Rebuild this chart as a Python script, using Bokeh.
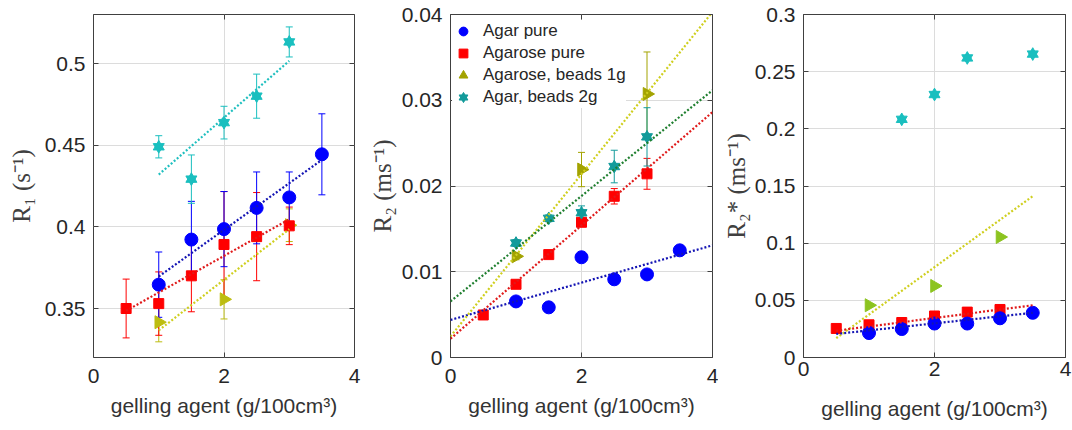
import numpy as np
from bokeh.plotting import figure
from bokeh.models import (ColumnDataSource, Whisker, TeeHead, FixedTicker,
                          LinearAxis, Range1d, Legend, LegendItem)
from bokeh.layouts import row
from bokeh.embed import file_html
from bokeh.resources import INLINE

# ---------------- data ----------------
x_ticks = [0, 2, 4]
x_tick_labels = ["0", "2", "4"]
x_title = "gelling agent (g/100cm³)"
series_names = ["Agar pure", "Agarose pure", "Agarose, beads 1g", "Agar, beads 2g"]

# Panel 1: R1 (s^-1)
r1_ticks = [0.35, 0.4, 0.45, 0.5]
r1_tick_labels = ["0.35", "0.4", "0.45", "0.5"]
r1_agar_x = [1, 1.5, 2, 2.5, 3, 3.5]
r1_agar_y = [0.3646, 0.3922, 0.3986, 0.4116, 0.4180, 0.4444]
r1_agar_err = [0.0200, 0.0234, 0.0230, 0.0220, 0.0156, 0.0248]
r1_agarose_x = [0.5, 1, 1.5, 2, 2.5, 3]
r1_agarose_y = [0.3500, 0.3530, 0.3700, 0.3892, 0.3940, 0.4006]
r1_agarose_err = [0.0180, 0.0194, 0.0220, 0.0324, 0.0270, 0.0115]
r1_beads1_x = [1, 2, 3]
r1_beads1_y = [0.3416, 0.3556, 0.4010]
r1_beads1_err = [0.0120, 0.0120, 0.0100]
r1_beads2_x = [1, 1.5, 2, 2.5, 3]
r1_beads2_y = [0.4490, 0.4292, 0.4638, 0.4800, 0.5132]
r1_beads2_err = [0.0068, 0.0148, 0.0100, 0.0135, 0.0092]
r1_fit_agar = ([1, 3.5], [0.3696, 0.4410])
r1_fit_agarose = ([0.5, 3], [0.3486, 0.4046])
r1_fit_beads1 = ([1, 3], [0.3366, 0.3986])
r1_fit_beads2 = ([1, 3], [0.4320, 0.5016])

# Panel 2: R2 (ms^-1)
r2_ticks = [0, 0.01, 0.02, 0.03, 0.04]
r2_tick_labels = ["0", "0.01", "0.02", "0.03", "0.04"]
r2_agar_x = [1, 1.5, 2, 2.5, 3, 3.5]
r2_agar_y = [0.00654, 0.00585, 0.01169, 0.00912, 0.00969, 0.01250]
r2_agarose_x = [0.5, 1, 1.5, 2, 2.5, 3]
r2_agarose_y = [0.00496, 0.00854, 0.01200, 0.01577, 0.01880, 0.02142]
r2_agarose_err = [0.0002, 0.0003, 0.0003, 0.0005, 0.0009, 0.0018]
r2_beads1_x = [1, 2, 3]
r2_beads1_y = [0.01180, 0.02192, 0.03073]
r2_beads1_err = [0.0004, 0.0020, 0.0049]
r2_beads2_x = [1, 1.5, 2, 2.5, 3]
r2_beads2_y = [0.01335, 0.01623, 0.01688, 0.02227, 0.02573]
r2_beads2_err = [0.0004, 0.0004, 0.0008, 0.0019, 0.0034]
r2_fit_agar = ([0, 4], [0.00438, 0.01308])
r2_fit_agarose = ([0, 4], [0.00219, 0.02862])
r2_fit_beads1 = ([0, 4], [0.00246, 0.04030])
r2_fit_beads2 = ([0, 4], [0.00654, 0.03115])

# Panel 3: R2* (ms^-1)
r3_ticks = [0, 0.05, 0.1, 0.15, 0.2, 0.25, 0.3]
r3_tick_labels = ["0", "0.05", "0.1", "0.15", "0.2", "0.25", "0.3"]
r3_agar_x = [1, 1.5, 2, 2.5, 3, 3.5]
r3_agar_y = [0.0214, 0.0249, 0.0297, 0.0297, 0.0343, 0.0391]
r3_agarose_x = [0.5, 1, 1.5, 2, 2.5, 3]
r3_agarose_y = [0.0254, 0.0286, 0.0306, 0.0363, 0.0397, 0.0420]
r3_beads1_x = [1, 2, 3]
r3_beads1_y = [0.0457, 0.0626, 0.1054]
r3_beads2_x = [1.5, 2, 2.5, 3.5]
r3_beads2_y = [0.2083, 0.2300, 0.2620, 0.2654]
r3_fit_agar = ([0.5, 3.5], [0.0206, 0.0391])
r3_fit_agarose = ([0.5, 3.5], [0.0234, 0.0457])
r3_fit_beads1 = ([0.5, 3.5], [0.0169, 0.1411])

# ---------------- style ----------------
SANS = "Liberation Sans"
SERIF = "Liberation Serif"
TXT = "#262626"
BLUE, RED = "#0000FF", "#FF0000"
BLUE_L, RED_L = "#1414B4", "#E01A1A"
YEL_L, CYAN_L, GREEN_L = "#CFCF1F", "#1FBFBF", "#1F7F2F"


def make_fig(width, ylabel, yrange, yticks, ylabels, bl, br, bt, bb,
             y_lab_standoff, x_tick_standoff, x_lab_standoff):
    p = figure(width=width, height=430, x_range=Range1d(0, 4), y_range=Range1d(*yrange),
               title=None, output_backend="svg", toolbar_location=None,
               min_border_left=bl, min_border_right=br, min_border_top=bt, min_border_bottom=bb,
               background_fill_color="white", border_fill_color="white")
    p.outline_line_color = "#404040"
    p.outline_line_width = 1
    xa, ya = p.xaxis[0], p.yaxis[0]
    xa.ticker = FixedTicker(ticks=x_ticks)
    xa.major_label_overrides = {t: l for t, l in zip(x_ticks, x_tick_labels)}
    ya.ticker = FixedTicker(ticks=yticks)
    ya.major_label_overrides = {t: l for t, l in zip(yticks, ylabels)}
    for ax in (xa, ya):
        ax.axis_line_color = None
        ax.major_tick_in = 5
        ax.major_tick_out = 0
        ax.major_tick_line_color = "#404040"
        ax.minor_tick_line_color = None
        ax.major_label_text_font = SANS
        ax.major_label_text_font_size = "21px"
        ax.major_label_text_color = TXT
        ax.major_label_standoff = 8
        ax.major_label_text_line_height = 1.0
        ax.axis_label_text_line_height = 1.0
    xa.major_label_standoff = x_tick_standoff
    xa.axis_label = x_title
    xa.axis_label_text_font = SANS
    xa.axis_label_text_font_size = "21px"
    xa.axis_label_text_font_style = "normal"
    xa.axis_label_text_color = "#333333"
    xa.axis_label_standoff = x_lab_standoff
    ya.axis_label = ylabel
    ya.axis_label_text_font = SERIF
    ya.axis_label_text_font_size = "25px"
    ya.axis_label_text_font_style = "normal"
    ya.axis_label_text_color = "#404040"
    ya.axis_label_standoff = y_lab_standoff
    # box ticks on top and right (no labels)
    for loc, tk in (("above", x_ticks), ("right", yticks)):
        ax = LinearAxis(ticker=FixedTicker(ticks=tk), axis_line_color=None,
                        major_tick_in=5, major_tick_out=0, major_tick_line_color="#404040",
                        minor_tick_line_color=None, major_label_text_font_size="1px",
                        major_label_text_line_height=1.0, major_label_text_color=None,
                        major_label_overrides={t: "" for t in tk},
                        major_label_standoff=0)
        p.add_layout(ax, loc)
    p.xgrid.ticker = FixedTicker(ticks=x_ticks)
    p.ygrid.ticker = FixedTicker(ticks=yticks)
    for g in (p.xgrid[0], p.ygrid[0]):
        g.grid_line_color = "#dcdcdc"
        g.grid_line_width = 1
    return p


def errbars(p, xs, ys, errs, color):
    src = ColumnDataSource(dict(x=xs, upper=[y + e for y, e in zip(ys, errs)],
                                lower=[y - e for y, e in zip(ys, errs)]))
    w = Whisker(base="x", upper="upper", lower="lower", source=src, dimension="height",
                line_color=color, line_width=1, level="underlay",
                upper_head=TeeHead(size=7, line_color=color, line_width=1),
                lower_head=TeeHead(size=7, line_color=color, line_width=1))
    p.add_layout(w)


def fitline(p, fit, color):
    p.line(fit[0], fit[1], line_color=color, line_width=2.2, line_dash="2 2")


def circles(p, xs, ys):
    return p.scatter(xs, ys, marker="circle", size=13, fill_color=BLUE, line_color=BLUE)


def squares(p, xs, ys):
    return p.scatter(xs, ys, marker="square", size=10, fill_color=RED, line_color=RED)


def tris(p, xs, ys, color):
    return p.scatter(xs, ys, marker="triangle", size=13, angle=-np.pi / 2,
                     fill_color=color, line_color=color)


def stars(p, xs, ys, color):
    a = p.scatter(xs, ys, marker="triangle", size=11, fill_color=color, line_color=color)
    b = p.scatter(xs, ys, marker="inverted_triangle", size=11, fill_color=color, line_color=color)
    return [a, b]


# ---------------- panel 1 ----------------
p1 = make_fig(364, "R₁ (s⁻¹)", (0.32, 0.53), r1_ticks, r1_tick_labels,
              93, 10, 11, 69, 7, 11, 8)
C1_TRI, C1_STAR = "#BDBD10", "#1ABFBF"
errbars(p1, r1_beads1_x, r1_beads1_y, r1_beads1_err, C1_TRI)
errbars(p1, r1_agarose_x, r1_agarose_y, r1_agarose_err, RED)
errbars(p1, r1_agar_x, r1_agar_y, r1_agar_err, BLUE)
errbars(p1, r1_beads2_x, r1_beads2_y, r1_beads2_err, C1_STAR)
tris(p1, r1_beads1_x, r1_beads1_y, C1_TRI)
squares(p1, r1_agarose_x, r1_agarose_y)
circles(p1, r1_agar_x, r1_agar_y)
stars(p1, r1_beads2_x, r1_beads2_y, C1_STAR)
fitline(p1, r1_fit_beads1, YEL_L)
fitline(p1, r1_fit_agarose, RED_L)
fitline(p1, r1_fit_agar, BLUE_L)
fitline(p1, r1_fit_beads2, CYAN_L)

# ---------------- panel 2 ----------------
p2 = make_fig(354, "R₂ (ms⁻¹)", (0, 0.04), r2_ticks, r2_tick_labels,
              86, 6, 14, 69, 3, 11, 8)
C2_TRI, C2_STAR = "#A3A300", "#139B9B"
errbars(p2, r2_beads1_x, r2_beads1_y, r2_beads1_err, C2_TRI)
errbars(p2, r2_agarose_x, r2_agarose_y, r2_agarose_err, RED)
errbars(p2, r2_beads2_x, r2_beads2_y, r2_beads2_err, C2_STAR)
rt = tris(p2, r2_beads1_x, r2_beads1_y, C2_TRI)
rs = squares(p2, r2_agarose_x, r2_agarose_y)
rc = circles(p2, r2_agar_x, r2_agar_y)
rst = stars(p2, r2_beads2_x, r2_beads2_y, C2_STAR)
fitline(p2, r2_fit_agar, BLUE_L)
fitline(p2, r2_fit_agarose, RED_L)
fitline(p2, r2_fit_beads1, YEL_L)
fitline(p2, r2_fit_beads2, GREEN_L)
legend = Legend(items=[LegendItem(label=series_names[0], renderers=[rc]),
                       LegendItem(label=series_names[1], renderers=[rs]),
                       LegendItem(label=series_names[2], renderers=[rt]),
                       LegendItem(label=series_names[3], renderers=rst)],
                location=(2, 249), margin=0, padding=2, glyph_width=22, glyph_height=22,
                label_height=22, spacing=0, label_standoff=9,
                label_text_font=SANS, label_text_font_size="17px", label_text_color=TXT,
                border_line_color=None, background_fill_color="white", background_fill_alpha=1)
p2.add_layout(legend)

# ---------------- panel 3 ----------------
p3 = make_fig(354, "R₂* (ms⁻¹)", (0, 0.3), r3_ticks, r3_tick_labels,
              85, 7, 9, 73, 2, 4, 18)
C3_TRI, C3_STAR = "#8CC420", "#1ABFBF"
tris(p3, r3_beads1_x, r3_beads1_y, C3_TRI)
squares(p3, r3_agarose_x, r3_agarose_y)
circles(p3, r3_agar_x, r3_agar_y)
stars(p3, r3_beads2_x, r3_beads2_y, C3_STAR)
fitline(p3, r3_fit_beads1, YEL_L)
fitline(p3, r3_fit_agarose, RED_L)
fitline(p3, r3_fit_agar, BLUE_L)

layout = row(p1, p2, p3)
open("out.html", "w").write(file_html(layout, INLINE))
